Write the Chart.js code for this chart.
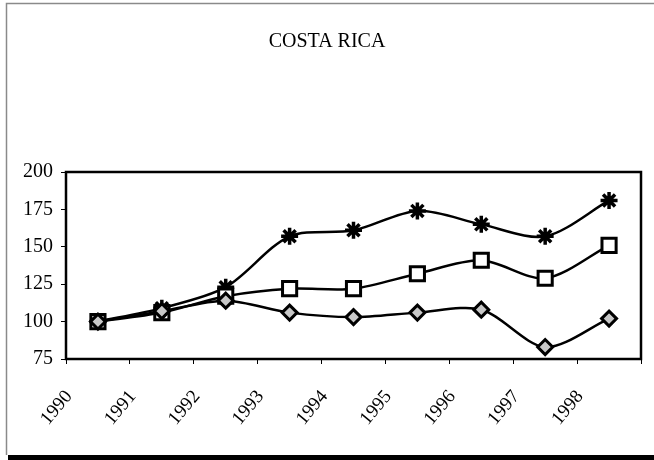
<!DOCTYPE html>
<html>
<head>
<meta charset="utf-8">
<script src="https://cdn.jsdelivr.net/npm/chart.js@4.4.1/dist/chart.umd.min.js"></script>
<style>
  html, body { margin: 0; padding: 0; background: #fff; }
  #wrap { position: relative; width: 654px; height: 460px; }
  canvas { display: block; }
</style>
</head>
<body>
<div id="wrap"><canvas id="c" width="654" height="460"></canvas></div>
<script>
const years = ['1990','1991','1992','1993','1994','1995','1996','1997','1998'];
const starSeries = [100, 109, 123, 157, 161, 174, 165, 157, 181];
const squareSeries = [100, 106, 117, 122, 122, 132, 141, 129, 151];
const diamondSeries = [100, 107, 114, 106, 103, 106, 108, 83, 102];
const yTicks = [75, 100, 125, 150, 175, 200];
const chartTitle = 'COSTA RICA';

const FONT = "'Liberation Serif', 'Times New Roman', serif";

const framePlugin = {
  id: 'frame',
  beforeDraw(chart) {
    const ctx = chart.ctx;
    ctx.save();
    ctx.fillStyle = '#fff';
    ctx.fillRect(0, 0, chart.width, chart.height);
    ctx.strokeStyle = '#8a8a8a';
    ctx.lineWidth = 1.5;
    ctx.beginPath();
    ctx.moveTo(6.5, 455);
    ctx.lineTo(6.5, 3.5);
    ctx.lineTo(654, 3.5);
    ctx.stroke();
    ctx.fillStyle = '#000';
    ctx.fillRect(8, 455, 646, 5);
    ctx.restore();
  },
  afterDatasetsDraw(chart) {
    const a = chart.chartArea;
    const ctx = chart.ctx;
    ctx.save();
    ctx.strokeStyle = '#000';
    ctx.lineWidth = 2.5;
    ctx.strokeRect(a.left, a.top, a.right - a.left, a.bottom - a.top);
    ctx.restore();
  }
};

new Chart(document.getElementById('c'), {
  type: 'line',
  data: {
    labels: years,
    datasets: [
      {
        label: 'diamond',
        data: diamondSeries,
        borderColor: '#000',
        borderWidth: 2.5,
        tension: 0.3,
        pointStyle: 'rectRot',
        pointRadius: 7.5,
        pointBackgroundColor: '#c8c8c8',
        pointBorderColor: '#000',
        pointBorderWidth: 3
      },
      {
        label: 'square',
        data: squareSeries,
        borderColor: '#000',
        borderWidth: 2.5,
        tension: 0.3,
        pointStyle: 'rect',
        pointRadius: 10,
        pointBackgroundColor: '#fff',
        pointBorderColor: '#000',
        pointBorderWidth: 3
      },
      {
        label: 'star',
        data: starSeries,
        borderColor: '#000',
        borderWidth: 2.5,
        tension: 0.3,
        pointStyle: 'star',
        pointRadius: 8.5,
        pointBackgroundColor: '#000',
        pointBorderColor: '#000',
        pointBorderWidth: 3.5
      }
    ]
  },
  options: {
    responsive: false,
    animation: false,
    events: [],
    layout: { padding: { left: 0, right: 0, top: 0, bottom: 0 } },
    plugins: {
      legend: { display: false },
      tooltip: { enabled: false },
      title: {
        display: true,
        text: chartTitle,
        color: '#000',
        font: { family: FONT, size: 20, weight: 'normal' },
        padding: { top: 30, bottom: 118 }
      }
    },
    scales: {
      x: {
        type: 'category',
        offset: true,
        grid: { offset: true, drawOnChartArea: false, drawTicks: true, tickLength: 5, color: '#000', lineWidth: 1 },
        border: { display: false },
        ticks: {
          color: '#000',
          font: { family: FONT, size: 19 },
          minRotation: 50,
          maxRotation: 50,
          labelOffset: -29,
          padding: 22,
          autoSkip: false
        },
        afterFit(scale) { scale.height = 101; }
      },
      y: {
        min: 75,
        max: 200,
        afterBuildTicks(scale) { scale.ticks = yTicks.map(v => ({ value: v })); },
        grid: { drawOnChartArea: false, drawTicks: true, tickLength: 5, color: '#000', lineWidth: 1 },
        border: { display: false },
        ticks: {
          color: '#000',
          font: { family: FONT, size: 20 },
          padding: 8
        },
        afterFit(scale) { scale.width = 66; }
      },
      yRight: {
        position: 'right',
        min: 75,
        max: 200,
        grid: { display: false },
        border: { display: false },
        ticks: { display: false },
        afterFit(scale) { scale.width = 9; }
      }
    }
  },
  plugins: [framePlugin]
});
</script>
</body>
</html>
